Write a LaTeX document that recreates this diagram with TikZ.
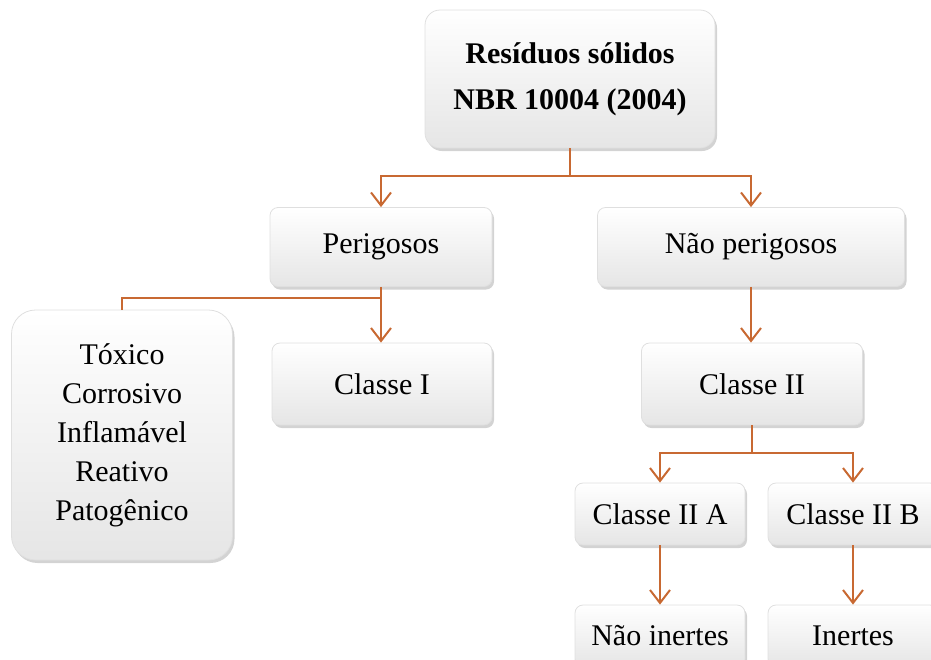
\documentclass[tikz,border=0pt]{standalone}
\usepackage{fontspec}
\setmainfont{Liberation Serif}
\usetikzlibrary{arrows.meta,shadows}
\definecolor{linkorange}{RGB}{200,105,50}
\tikzset{
  box/.style={draw=gray!25, rounded corners=4pt, top color=white, bottom color=gray!20,
    drop shadow={shadow xshift=1pt, shadow yshift=-1.5pt, opacity=0.35},
    align=center, inner sep=0pt},
  link/.style={draw=linkorange, line width=1pt},
  arr/.style={link, -{Straight Barb[length=6.5pt,width=10pt]}}
}
\begin{document}
\begin{tikzpicture}[x=0.5pt, y=-0.5pt, font=\fontsize{15}{23}\selectfont]
			\useasboundingbox (0,0) rectangle (931,659);
			\clip (0,0) rectangle (931,659);
			
			\node[box, rounded corners=7.5pt, minimum width=145pt, minimum height=69pt] (top) at (570,79)
				{\textbf{Resíduos sólidos}\\\textbf{NBR 10004 (2004)}};
			
			\node[box, minimum width=111pt, minimum height=39.5pt] (per) at (381,247) {Perigosos};
			\node[box, minimum width=153.5pt, minimum height=39.5pt] (nper) at (751,247) {Não perigosos};
			
			\node[box, rounded corners=12pt, minimum width=110.5pt, minimum height=125pt,
				font=\fontsize{15}{19.5}\selectfont] (lista) at (122,435)
				{Tóxico\\Corrosivo\\Inflamável\\Reativo\\Patogênico};
			\node[box, minimum width=110pt, minimum height=41pt] (c1) at (382,384) {Classe I};
			\node[box, minimum width=110.5pt, minimum height=41pt] (c2) at (752,384) {Classe II};
			
			\node[box, minimum width=85pt, minimum height=31pt] (c2a) at (660,514) {Classe II A};
			\node[box, minimum width=85pt, minimum height=31pt] (c2b) at (853,514) {Classe II B};
			\node[box, minimum width=85pt, minimum height=31pt] (ni) at (660,636) {Não inertes};
			\node[box, minimum width=85pt, minimum height=31pt] (ine) at (853,636) {Inertes};
			
			% ligacoes
			\draw[link] (top.south) -- (570,176) coordinate (j1);
			\draw[arr] (j1) -| (per.north);
			\draw[arr] (j1) -| (nper.north);
			
			\draw[link] (per.south) -- (381,298) coordinate (j2);
			\draw[link] (j2) -| (lista.north);
			\draw[arr] (j2) -- (c1.north -| j2);
			\draw[arr] (nper.south) -- (c2.north -| nper.south);
			
			\draw[link] (c2.south) -- (752,453) coordinate (j3);
			\draw[arr] (j3) -| (c2a.north);
			\draw[arr] (j3) -| (c2b.north);
			\draw[arr] (c2a.south) -- (ni.north);
			\draw[arr] (c2b.south) -- (ine.north);
		\end{tikzpicture}
\end{document}
